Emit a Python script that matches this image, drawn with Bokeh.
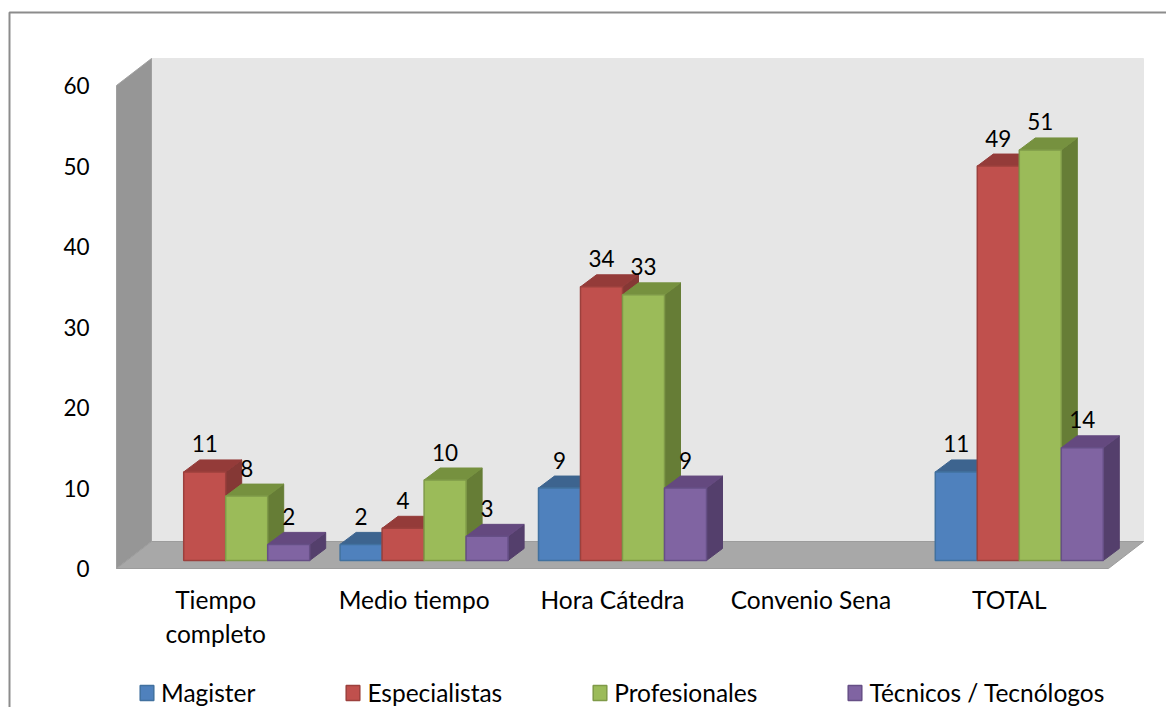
from bokeh.plotting import figure
from bokeh.models import ColumnDataSource, Range1d, FixedTicker, Legend, LegendItem
from bokeh.embed import file_html
from bokeh.resources import INLINE
from bokeh.core.properties import value

categories = ["Tiempo completo", "Medio tiempo", "Hora Cátedra", "Convenio Sena", "TOTAL"]
category_labels = ["Tiempo\ncompleto", "Medio tiempo", "Hora Cátedra", "Convenio Sena", "TOTAL"]
series_names = ["Magister", "Especialistas", "Profesionales", "Técnicos / Tecnólogos"]
magister = [0, 2, 9, 0, 11]
especialistas = [11, 4, 34, 0, 49]
profesionales = [8, 10, 33, 0, 51]
tecnicos = [2, 3, 9, 0, 14]
y_ticks = [0, 10, 20, 30, 40, 50, 60]

front_colors = ["#4F81BD", "#C0504D", "#9BBB59", "#8064A2"]
edge_colors = ["#41719F", "#9C403D", "#7F9A48", "#664F86"]
top_colors = ["#3D648F", "#943B39", "#76913F", "#64497F"]
side_colors = ["#375B85", "#853835", "#667D36", "#543F6C"]

FONT = "Lato"
FS = "24.5px"
FS_NUM = "22.5px"
W, H = 1166, 707
PX_CAT, PX_UNIT = 198.4, 8.05      # pixels per category / per value unit
X0, Y0 = 116, 568                  # frame position of the origin (front corner of the floor)

p = figure(width=W, height=H, output_backend="svg", toolbar_location=None,
           x_range=Range1d(-X0 / PX_CAT, (W - X0) / PX_CAT),
           y_range=Range1d(-(H - Y0) / PX_UNIT, Y0 / PX_UNIT),
           min_border=0, margin=(0, 0, -8, 0), outline_line_color=None,
           background_fill_color="white", border_fill_color="white")
p.grid.visible = False

# depth of the box and of the bars, in data units
box_dx, box_dy = 35 / PX_CAT, 27 / PX_UNIT
bar_dx, bar_dy = 16 / PX_CAT, 12 / PX_UNIT
base_dx, base_dy = 10 / PX_CAT, 8 / PX_UNIT
bar_w = 42 / PX_CAT
n_cat = len(categories)
top_val = y_ticks[-1]
box_end = n_cat

# chart border (top and left sides only are inside the picture)
bx, by = (9 - X0) / PX_CAT, (Y0 - 12) / PX_UNIT
p.line([bx, bx, (W - X0) / PX_CAT], [-(H - Y0) / PX_UNIT, by, by], line_color="#8C8C8C", line_width=2)

# back wall, side wall, floor
p.patch([box_dx, box_end + box_dx, box_end + box_dx, box_dx],
        [box_dy, box_dy, top_val + box_dy, top_val + box_dy], fill_color="#E6E6E6", line_color="#E6E6E6")
p.patch([0, box_dx, box_dx, 0], [0, box_dy, top_val + box_dy, top_val],
        fill_color="#969696", line_color="#A0A0A0", line_width=1)
p.patch([0, box_end, box_end + box_dx, box_dx], [0, 0, box_dy, box_dy],
        fill_color="#A8A8A8", line_color="#9C9C9C", line_width=1)

legend_items = []
label_x, label_y, label_t = [], [], []
for s, (name, vals) in enumerate(zip(series_names, [magister, especialistas, profesionales, tecnicos])):
    left, right, tops = [], [], []
    for i, v in enumerate(vals):
        if v == 0:
            continue
        l = i + 0.5 - 2 * bar_w + base_dx + s * bar_w
        left.append(l)
        right.append(l + bar_w)
        tops.append(v + base_dy)
        label_x.append(l + bar_w / 2)
        label_y.append(v + base_dy)
        label_t.append(str(v))
    bottoms = [base_dy] * len(tops)
    side_xs = [[r, r + bar_dx, r + bar_dx, r] for r in right]
    side_ys = [[b, b + bar_dy, t + bar_dy, t] for b, t in zip(bottoms, tops)]
    top_xs = [[l, l + bar_dx, r + bar_dx, r] for l, r in zip(left, right)]
    top_ys = [[t, t + bar_dy, t + bar_dy, t] for t in tops]
    p.patches(side_xs, side_ys, fill_color=side_colors[s], line_color=side_colors[s], line_width=1)
    p.patches(top_xs, top_ys, fill_color=top_colors[s], line_color=top_colors[s], line_width=1)
    front = p.quad(left=left, right=right, top=tops, bottom=bottoms,
                   fill_color=front_colors[s], line_color=edge_colors[s], line_width=1.5)
    legend_items.append(LegendItem(label=name, renderers=[front]))

src = ColumnDataSource(dict(x=label_x, y=label_y, t=label_t))
p.text("x", "y", text="t", source=src, text_align="center", text_baseline="middle", y_offset=-28,
       text_font=value(FONT), text_font_size=FS_NUM, text_color="black")

# axes inside the frame
p.xaxis.fixed_location = 0
p.yaxis.fixed_location = 0
for ax in (p.xaxis[0], p.yaxis[0]):
    ax.axis_line_color = None
    ax.major_tick_line_color = None
    ax.minor_tick_line_color = None
    ax.major_label_text_font = FONT
    ax.major_label_text_color = "black"
p.xaxis[0].major_label_text_font_size = FS
p.yaxis[0].major_label_text_font_size = FS_NUM
p.xaxis[0].ticker = FixedTicker(ticks=[i + 0.5 for i in range(n_cat)])
p.xaxis[0].major_label_overrides = {i + 0.5: lab for i, lab in enumerate(category_labels)}
p.xaxis[0].major_label_standoff = 10
p.yaxis[0].ticker = FixedTicker(ticks=y_ticks)
p.yaxis[0].major_label_standoff = 21

legend = Legend(items=legend_items, orientation="horizontal", location=(138, 0),
                padding=0, margin=0, spacing=89, glyph_width=17, glyph_height=19, label_standoff=6,
                border_line_color=None, background_fill_alpha=0,
                label_text_font=FONT, label_text_font_size=FS, label_text_color="black")
p.add_layout(legend, "center")

open("out.html", "w").write(file_html(p, INLINE))
